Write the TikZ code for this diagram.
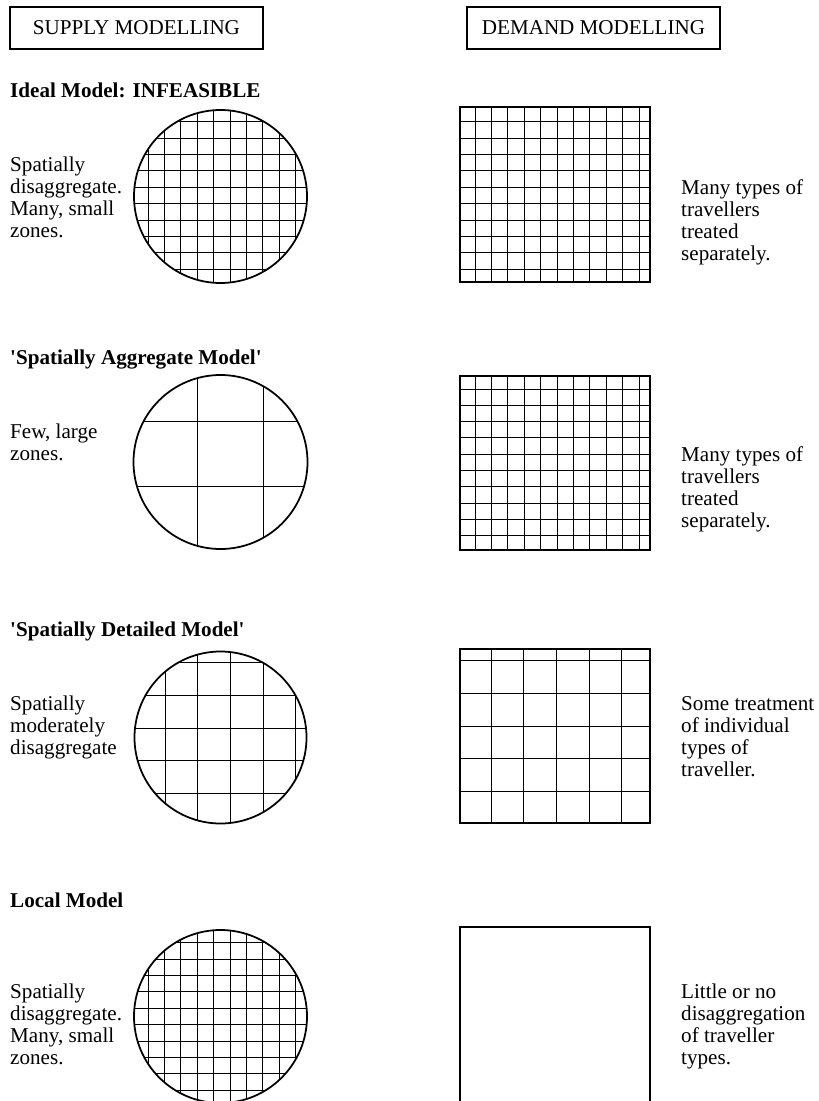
\documentclass[tikz,border=0pt]{standalone}
\usepackage{fontspec}
\setmainfont{Liberation Serif}
\usetikzlibrary{positioning}
\tikzset{
  headbox/.style={rectangle, draw=black, line width=1.1pt, minimum width=7.59cm, minimum height=1.26cm, font=\fontsize{18}{18.8}\selectfont},
  blocktitle/.style={anchor=base west, inner sep=0pt, font=\fontsize{18}{18.8}\selectfont\bfseries},
  sidetext/.style={anchor=north west, align=left, inner sep=0pt, font=\fontsize{18}{18.8}\selectfont},
  zoneline/.style={black, line width=0.8pt},
  outline/.style={black, line width=1.5pt}
}
% circle cut into zones: centre x, centre y, radius, x lines, y lines
\newcommand{\zonedisc}[5]{
    \begin{scope}
        \clip (#1,#2) circle[radius=#3];
        \foreach \gx in {#4} \draw[zoneline] (\gx,#2-#3) -- (\gx,#2+#3);
        \foreach \gy in {#5} \draw[zoneline] (#1-#3,\gy) -- (#1+#3,\gy);
    \end{scope}
    \draw[outline] (#1,#2) circle[radius=#3];
}
% box cut into traveller types: corners, x lines, y lines
\newcommand{\typebox}[6]{
    \foreach \gx in {#5} \draw[zoneline] (\gx,#2) -- (\gx,#4);
    \foreach \gy in {#6} \draw[zoneline] (#1,\gy) -- (#3,\gy);
    \draw[outline] (#1,#2) rectangle (#3,#4);
}

\begin{document}
\begin{tikzpicture}[x=0.03cm, y=-0.03cm]
        \path[use as bounding box, clip] (0,0) rectangle (818,1101);

        % 1. Cabeceras
        \node[headbox] (supply) at (136.5,28) {SUPPLY MODELLING};
        \node[headbox] (demand) at (593.5,28) {DEMAND MODELLING};

        % 2. Ideal Model
        \node[blocktitle] (idealT) at (10,98) {Ideal Model: INFEASIBLE};
        \zonedisc{220.5}{196.5}{86.5}{148,164.4,...,297}{121.7,138.1,...,270}
        \typebox{460}{107}{650}{282}{475,491.4,...,640}{121.7,138.1,...,270}
        \node[sidetext] (idealL) at (10,157) {Spatially\\disaggregate.\\Many, small\\zones.};
        \node[sidetext] (idealR) at (681,179) {Many types of\\travellers\\treated\\separately.};

        % 3. Spatially Aggregate Model
        \node[blocktitle] (aggrT) at (10,364) {\textquotesingle Spatially Aggregate Model\textquotesingle};
        \zonedisc{220.5}{462}{87}{197.7,263.3}{421,486.7}
        \typebox{460}{375.7}{650}{550}{475,491.4,...,640}{389,405.3,...,537}
        \node[sidetext] (aggrL) at (10,424) {Few, large\\zones.};
        \node[sidetext] (aggrR) at (681,446) {Many types of\\travellers\\treated\\separately.};

        % 4. Spatially Detailed Model
        \node[blocktitle] (detT) at (10,636) {\textquotesingle Spatially Detailed Model\textquotesingle};
        \zonedisc{220.5}{737.5}{86}{165,197.7,...,297}{662.7,695.4,...,795}
        \typebox{460}{649.3}{650}{822.7}{491,523.7,...,623}{660.7,693.45,...,793}
        \node[sidetext] (detL) at (10,696) {Spatially\\moderately\\disaggregate};
        \node[sidetext] (detR) at (681,696) {Some treatment\\of individual\\types of\\traveller.};

        % 5. Local Model
        \node[blocktitle] (localT) at (10,907) {Local Model};
        \zonedisc{220.5}{1016.5}{86.5}{148,164.4,...,297}{942.7,959.1,...,1101}
        \draw[outline] (460,927.3) rectangle (650,1115);
        \node[sidetext] (localL) at (10,984) {Spatially\\disaggregate.\\Many, small\\zones.};
        \node[sidetext] (localR) at (681,984) {Little or no\\disaggregation\\of traveller\\types.};

\end{tikzpicture}
\end{document}
